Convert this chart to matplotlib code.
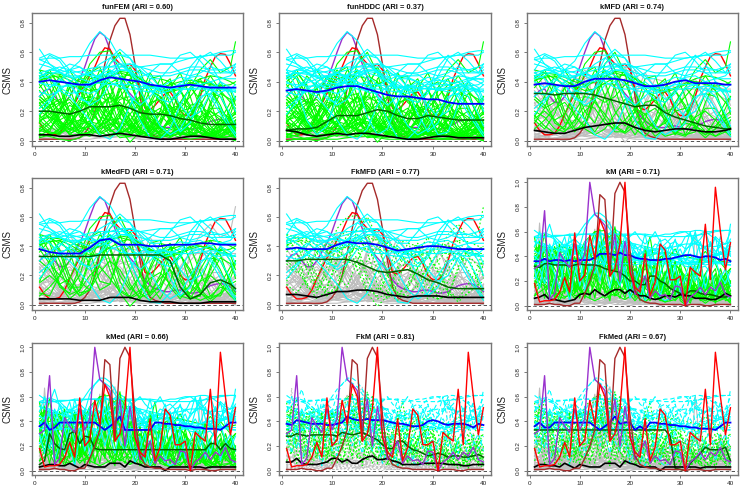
import matplotlib

matplotlib.use("Agg")
import matplotlib.pyplot as plt
import numpy as np

plt.rcParams["font.family"] = ["Liberation Sans", "DejaVu Sans"]

# all curve values are CSMS x 100
days = list(range(1, 41))
knot_days = [1, 3, 5, 7, 9, 11, 13, 15, 17, 19, 21, 23, 25, 27, 29, 31, 33, 35, 37, 39, 40]

purple_smooth = [30, 34, 35, 30, 26, 26, 30, 36, 42, 50, 60, 69, 73.5, 71, 62, 52, 43, 36, 32, 28,
                 22, 17, 13, 11, 10, 9, 9, 10, 10, 9, 8, 8, 9, 11, 13, 14, 14.5, 14, 12, 9]
red_smooth = [12, 7, 4, 4, 5, 10, 18, 25, 32, 38, 44, 50, 58, 63, 62, 56, 52, 50, 52, 48,
              35, 22, 21, 24, 28, 32, 33, 28, 20, 17, 17, 20, 30, 42, 50, 57, 59, 58.5, 52, 44]
brown_smooth = [1, 1, 1, 1, 1, 1, 1, 1, 2, 5, 10, 20, 35, 52, 68, 78, 83, 83, 72, 52,
                30, 12, 5, 3, 2, 1, 1, 1, 1, 1, 1, 1, 1, 1, 1, 1, 1, 1, 1, 1]
purple_raw = [30, 33, 77, 5, 10, 43, 36, 31, 50, 33, 42, 100, 74, 70, 65, 35, 58, 20, 52, 30,
              9, 16, 24, 6, 12, 8, 9, 5, 16, 15, 0, 7, 10, 15, 9, 15, 12, 19, 9, 7]
red_raw = [18, 3, 4, 4, 5, 11, 23, 11, 59, 20, 25, 57, 38, 70, 60, 24, 30, 50, 100, 27,
           15, 11, 42, 8, 19, 50, 45, 21, 21, 24, 0, 31, 27, 24, 66, 21, 96, 60, 29, 51]
brown_raw = [1, 1, 1, 2, 1, 1, 0, 0, 2, 2, 10, 20, 33, 90, 86, 24, 91, 100, 92, 45,
             12, 5, 3, 2, 2, 1, 1, 1, 1, 1, 0, 1, 1, 1, 0, 0, 1, 1, 1, 1]

low_curves = [
    [2, 3, 5, 6, 4, 3, 2, 2, 3, 5, 6, 4, 2, 2, 3, 4, 3, 2, 2, 1, 1],
    [6, 8, 7, 4, 3, 4, 6, 8, 7, 5, 3, 2, 3, 5, 5, 3, 2, 2, 3, 2, 1],
    [9, 7, 4, 2, 3, 6, 9, 8, 5, 3, 2, 4, 6, 7, 5, 3, 2, 3, 4, 3, 2],
    [1, 2, 4, 7, 9, 7, 4, 2, 3, 6, 9, 8, 5, 2, 1, 2, 4, 5, 3, 2, 1],
    [4, 6, 9, 10, 7, 4, 3, 5, 8, 11, 9, 6, 3, 1, 2, 4, 6, 5, 3, 1, 0],
    [3, 1, 1, 3, 5, 8, 10, 8, 5, 3, 2, 3, 5, 6, 4, 2, 1, 3, 5, 6, 5],
    [12, 10, 6, 3, 2, 4, 8, 12, 13, 9, 5, 2, 1, 3, 5, 6, 4, 2, 1, 2, 3],
    [0, 1, 2, 2, 1, 1, 2, 3, 3, 2, 1, 1, 1, 2, 2, 1, 1, 1, 2, 2, 2],
    [7, 5, 5, 8, 11, 13, 11, 7, 4, 3, 4, 7, 9, 8, 5, 3, 3, 5, 7, 8, 7],
    [14, 16, 13, 8, 5, 5, 8, 11, 12, 10, 6, 3, 2, 4, 7, 8, 6, 3, 2, 3, 4],
    [2, 4, 8, 12, 14, 11, 6, 3, 5, 9, 14, 15, 10, 5, 2, 1, 2, 4, 3, 1, 0],
    [5, 3, 1, 0, 2, 6, 10, 14, 15, 11, 6, 3, 2, 5, 9, 11, 8, 4, 2, 3, 5],
]
midlow_curves = [
    [22, 28, 20, 10, 4, 6, 14, 24, 26, 18, 8, 3, 6, 14, 18, 12, 5, 3, 6, 10, 12],
    [12, 6, 4, 12, 22, 28, 22, 12, 6, 8, 16, 22, 18, 10, 4, 6, 14, 20, 16, 8, 5],
    [18, 24, 28, 20, 10, 6, 10, 18, 28, 30, 20, 10, 4, 2, 6, 14, 20, 16, 8, 4, 3],
    [8, 14, 22, 26, 18, 8, 4, 8, 18, 28, 24, 14, 8, 12, 20, 22, 14, 6, 3, 6, 9],
    [28, 20, 10, 5, 8, 18, 30, 32, 22, 10, 4, 6, 14, 20, 14, 6, 2, 3, 10, 16, 18],
    [4, 3, 8, 18, 28, 30, 20, 8, 2, 3, 12, 24, 30, 22, 10, 4, 3, 8, 14, 12, 8],
    [15, 20, 14, 7, 10, 20, 26, 18, 9, 5, 10, 18, 22, 14, 6, 8, 16, 20, 14, 6, 3],
    [25, 30, 26, 14, 5, 3, 9, 20, 30, 26, 14, 5, 3, 8, 16, 20, 16, 8, 4, 9, 14],
    [10, 5, 6, 16, 26, 24, 12, 4, 6, 18, 26, 20, 10, 4, 8, 18, 24, 18, 8, 3, 2],
    [20, 16, 8, 6, 14, 24, 22, 12, 8, 14, 22, 18, 8, 3, 5, 12, 10, 6, 10, 17, 20],
    [6, 12, 20, 14, 6, 10, 22, 30, 24, 12, 5, 8, 18, 24, 16, 6, 3, 6, 12, 10, 7],
    [30, 24, 12, 4, 4, 12, 24, 30, 20, 8, 3, 4, 12, 22, 24, 14, 5, 2, 6, 15, 19],
    [13, 18, 25, 28, 20, 10, 10, 20, 24, 14, 6, 10, 20, 16, 7, 3, 8, 16, 20, 15, 10],
    [3, 8, 16, 24, 20, 10, 5, 10, 20, 24, 16, 6, 6, 16, 26, 22, 10, 3, 2, 6, 10],
    [17, 10, 5, 10, 20, 30, 28, 15, 6, 6, 14, 26, 28, 16, 5, 3, 10, 22, 22, 12, 6],
    [24, 18, 9, 12, 24, 28, 16, 6, 10, 24, 30, 18, 6, 3, 10, 24, 26, 14, 5, 6, 12],
]
mid_curves = [
    [40, 46, 38, 20, 8, 10, 28, 44, 42, 24, 8, 3, 10, 26, 34, 22, 8, 4, 14, 26, 30],
    [12, 22, 40, 48, 36, 14, 6, 16, 38, 48, 34, 12, 3, 8, 24, 36, 28, 10, 3, 8, 14],
    [48, 36, 14, 4, 10, 30, 44, 38, 16, 4, 8, 26, 42, 40, 18, 4, 6, 24, 38, 34, 24],
    [20, 10, 14, 34, 46, 38, 18, 8, 22, 44, 46, 26, 6, 4, 20, 38, 36, 14, 3, 5, 10],
    [36, 44, 30, 12, 12, 32, 48, 40, 20, 10, 20, 34, 30, 12, 4, 14, 34, 44, 34, 14, 4],
    [8, 6, 20, 40, 44, 26, 10, 14, 36, 50, 38, 14, 4, 16, 36, 40, 22, 6, 6, 18, 28],
    [44, 30, 12, 8, 26, 46, 50, 30, 10, 6, 20, 42, 44, 24, 6, 4, 16, 32, 30, 16, 8],
    [30, 40, 46, 30, 12, 8, 24, 46, 58, 44, 18, 4, 6, 22, 40, 38, 18, 4, 4, 16, 22],
    [16, 30, 44, 36, 16, 10, 28, 52, 60, 46, 20, 6, 14, 36, 46, 30, 8, 2, 8, 22, 30],
    [46, 42, 24, 10, 20, 42, 44, 24, 8, -1, 6, 24, 38, 30, 12, 8, 24, 36, 24, 8, 3],
    [34, 24, 10, 14, 36, 46, 28, 8, 16, 42, 48, 28, 8, 3, 14, 34, 42, 26, 8, 6, 14],
    [10, 20, 34, 46, 40, 20, 6, 12, 34, 42, 24, 6, 10, 32, 44, 30, 8, 3, 14, 34, 36],
    [42, 48, 36, 16, 6, 14, 36, 48, 36, 14, 4, 14, 36, 42, 22, 4, 6, 26, 40, 30, 18],
    [26, 14, 6, 16, 38, 48, 40, 18, 4, 10, 30, 46, 36, 12, 3, 12, 32, 38, 20, 5, 2],
    [38, 28, 20, 30, 44, 36, 16, 14, 34, 40, 22, 8, 20, 40, 36, 14, 8, 20, 32, 28, 20],
    [14, 8, 18, 36, 38, 20, 12, 30, 44, 40, 22, 8, 6, 14, 26, 36, 48, 55, 46, 50, 67],
    [30, 24, 14, 18, 34, 52, 60, 61, 48, 30, 14, 8, 12, 26, 34, 24, 10, 4, 8, 14, 16],
]
high_curves = [
    [44, 46, 45, 43, 40, 38, 40, 44, 46, 44, 40, 37, 36, 38, 40, 41, 40, 38, 37, 38, 40],
    [38, 40, 42, 44, 46, 45, 42, 40, 38, 37, 38, 40, 42, 43, 42, 40, 38, 36, 35, 36, 37],
    [48, 46, 42, 38, 36, 37, 40, 44, 47, 46, 42, 38, 35, 34, 36, 39, 42, 44, 43, 40, 38],
    [34, 36, 39, 42, 44, 42, 38, 35, 34, 37, 41, 44, 43, 40, 36, 34, 35, 38, 41, 42, 41],
    [41, 43, 44, 41, 37, 34, 35, 39, 43, 45, 43, 38, 34, 33, 35, 38, 40, 39, 36, 34, 33],
    [36, 34, 33, 36, 42, 46, 44, 38, 33, 32, 36, 42, 46, 45, 40, 35, 33, 35, 40, 44, 46],
    [46, 42, 36, 32, 33, 38, 45, 48, 44, 38, 34, 33, 36, 40, 43, 42, 38, 34, 33, 35, 38],
    [30, 34, 40, 45, 46, 42, 36, 32, 30, 33, 39, 44, 45, 41, 36, 32, 31, 35, 40, 43, 44],
    [43, 48, 47, 40, 34, 32, 35, 42, 48, 47, 40, 34, 32, 34, 39, 43, 44, 40, 35, 33, 34],
    [33, 31, 34, 40, 44, 46, 43, 40, 36, 35, 35, 36, 37, 36, 35, 35, 36, 37, 36, 34, 33],
    [35, 36, 35, 35, 36, 36, 36, 36, 35, 35, 34, 34, 35, 35, 35, 35, 34, 34, 34, 33, 33],
    [39, 38, 37, 37, 38, 39, 39, 38, 38, 38, 37, 36, 36, 36, 35, 35, 35, 35, 35, 35, 35],
    [28, 22, 26, 36, 42, 38, 30, 26, 30, 38, 42, 36, 26, 20, 22, 30, 38, 40, 34, 26, 22],
    [18, 26, 36, 38, 28, 26, 36, 46, 42, 30, 24, 30, 38, 36, 24, 16, 20, 32, 40, 36, 28],
]
top_curves = [
    [44, 46, 46, 48, 54, 66, 74, 68, 56, 46, 40, 36, 34, 36, 38, 38, 38, 40, 42, 42, 42],
    [55, 56, 56, 57, 57, 58, 58, 58, 58, 58, 58, 58, 57, 56, 56, 56, 57, 58, 60, 61, 61],
    [62, 52, 46, 43, 43, 46, 52, 56, 52, 47, 43, 46, 52, 52, 46, 44, 46, 50, 48, 46, 52],
    [56, 59, 56, 48, 42, 40, 44, 52, 58, 56, 48, 42, 42, 50, 58, 60, 54, 46, 42, 44, 48],
    [55, 52, 48, 46, 47, 49, 50, 50, 50, 50, 50, 51, 52, 52, 54, 56, 57, 58, 58, 58, 60],
    [48, 58, 54, 44, 38, 36, 42, 56, 62, 56, 44, 34, 28, 26, 32, 44, 56, 60, 54, 46, 50],
    [42, 44, 48, 52, 50, 44, 40, 44, 50, 52, 50, 44, 36, 28, 34, 50, 58, 52, 40, 30, 20],
    [40, 36, 40, 48, 50, 46, 42, 46, 52, 46, 34, 22, 10, 4, 8, 20, 30, 32, 22, 10, 5],
    [30, 36, 42, 38, 30, 24, 28, 38, 40, 30, 14, 2, 1, 8, 24, 36, 38, 30, 18, 8, 3],
    [22, 28, 34, 30, 22, 14, 4, 1, 8, 24, 36, 40, 34, 18, 6, 12, 28, 36, 30, 18, 10],
    [52, 50, 46, 44, 44, 46, 48, 50, 52, 52, 50, 48, 46, 46, 48, 50, 50, 48, 48, 50, 52],
    [46, 48, 50, 48, 46, 44, 44, 46, 48, 48, 46, 44, 44, 44, 46, 48, 48, 46, 46, 46, 46],
]
smooth_curves = low_curves + midlow_curves + mid_curves + high_curves + top_curves

raw_curves = [
    [1, 67, 10, 4, 2, 3, 1, 2, 3, 5, 2, 4, 8, 3, 2, 6, 3, 1, 2, 4, 1, 2, 3, 1, 2, 1, 3, 2, 1, 2, 1, 1, 2, 3, 2, 1, 2, 3, 2, 1],
    [3, 5, 2, 8, 12, 4, 2, 6, 20, 8, 5, 40, 62, 14, 6, 3, 8, 12, 6, 3, 2, 5, 3, 6, 2, 1, 4, 2, 5, 3, 1, 3, 6, 2, 1, 4, 3, 9, 4, 2],
    [8, 12, 15, 5, 3, 9, 14, 6, 3, 12, 25, 18, 30, 22, 60, 68, 30, 14, 8, 5, 10, 6, 3, 8, 12, 5, 2, 7, 3, 6, 2, 5, 10, 4, 7, 2, 6, 30, 12, 3],
    [20, 14, 4, 9, 16, 6, 22, 18, 8, 4, 12, 28, 35, 16, 22, 40, 20, 45, 30, 12, 6, 14, 20, 7, 3, 16, 8, 4, 10, 5, 2, 8, 4, 12, 6, 3, 9, 5, 18, 8],
    [0, 1, 1, 2, 1, 1, 0, 1, 2, 1, 1, 2, 1, 0, 1, 2, 1, 1, 1, 0, 1, 1, 1, 2, 1, 0, 1, 1, 0, 1, 0, 1, 1, 0, 1, 1, 0, 1, 1, 1],
    [5, 2, 24, 30, 10, 4, 8, 28, 14, 6, 20, 9, 4, 32, 18, 8, 26, 35, 22, 15, 4, 9, 3, 14, 22, 8, 3, 11, 18, 4, 1, 4, 60, 16, 8, 12, 25, 8, 28, 5],
    [12, 28, 7, 3, 5, 18, 6, 3, 10, 22, 6, 15, 38, 52, 28, 12, 5, 24, 40, 8, 16, 22, 10, 4, 6, 12, 20, 6, 2, 9, 5, 12, 3, 5, 14, 20, 4, 10, 3, 6],
    [2, 8, 18, 12, 20, 9, 30, 12, 5, 16, 8, 34, 20, 9, 44, 26, 52, 15, 10, 20, 8, 3, 14, 18, 6, 2, 9, 16, 8, 2, 6, 2, 8, 15, 4, 6, 16, 22, 8, 2],
    [48, 40, 58, 30, 12, 35, 44, 26, 10, 38, 50, 22, 40, 62, 30, 48, 64, 40, 22, 14, 30, 8, 40, 56, 30, 12, 24, 38, 16, 6, 2, 20, 30, 14, 26, 8, 16, 30, 18, 8],
    [30, 52, 34, 14, 38, 50, 18, 44, 28, 12, 30, 46, 26, 10, 34, 52, 36, 16, 40, 24, 10, 28, 48, 20, 6, 34, 44, 22, 8, 30, 12, 4, 26, 38, 12, 24, 30, 10, 18, 16],
    [55, 36, 18, 42, 24, 8, 34, 48, 14, 30, 44, 16, 36, 50, 22, 6, 28, 44, 14, 32, 18, 4, 24, 10, 36, 16, 6, 26, 36, 10, 2, 14, 30, 8, 20, 6, 14, 26, 6, 20],
    [18, 28, 46, 22, 6, 26, 40, 12, 32, 46, 20, 6, 24, 42, 58, 34, 12, 26, 46, 24, 6, 18, 34, 12, 22, 40, 14, 4, 20, 34, 16, 6, 18, 6, 24, 14, 2, 16, 22, 4],
    [40, 22, 6, 24, 48, 30, 10, 36, 18, 6, 26, 48, 60, 30, 10, 30, 50, 16, 6, 22, 36, 14, 4, 18, 30, 8, 22, 40, 18, 6, 10, 32, 10, 20, 6, 16, 26, 8, 14, 10],
    [8, 16, 30, 48, 20, 10, 24, 6, 30, 48, 26, 8, 18, 34, 14, 4, 34, 60, 30, 12, 24, 6, 16, 34, 12, 4, 16, 30, 10, 18, 4, 8, 20, 28, 8, 4, 22, 10, 6, 2],
    [24, 50, 14, 6, 18, 36, 18, 46, 10, 20, 36, 22, 6, 30, 46, 20, 8, 18, 32, 8, 16, 34, 10, 4, 16, 26, 6, 12, 28, 4, 1, 18, 6, 14, 22, 10, 4, 14, 26, 12],
    [34, 14, 26, 38, 12, 4, 14, 28, 40, 16, 6, 20, 30, 12, 24, 38, 18, 6, 20, 40, 12, 6, 22, 36, 8, 14, 28, 6, 14, 24, 8, 2, 14, 4, 12, 26, 8, 20, 4, 6],
    [45, 48, 48, 44, 46, 48, 47, 46, 44, 46, 48, 40, 38, 42, 36, 40, 44, 38, 34, 30, 28, 24, 30, 26, 22, 20, 16, 14, 18, 12, 14, 18, 10, 14, 16, 12, 14, 18, 10, 10],
    [61, 58, 55, 66, 52, 46, 50, 48, 44, 48, 62, 70, 75, 75, 72, 66, 58, 50, 46, 40, 44, 38, 36, 34, 36, 38, 36, 40, 42, 38, 38, 36, 38, 40, 40, 42, 40, 44, 40, 66],
    [56, 55, 56, 56, 57, 57, 57, 58, 58, 58, 58, 58, 58, 58, 58, 58, 58, 58, 57, 57, 58, 58, 57, 56, 56, 57, 58, 58, 59, 60, 60, 60, 61, 61, 60, 60, 61, 61, 61, 61],
    [48, 60, 44, 38, 54, 40, 36, 58, 42, 50, 36, 42, 56, 40, 34, 48, 58, 36, 46, 52, 36, 44, 58, 40, 34, 50, 36, 44, 54, 38, 34, 48, 60, 42, 36, 52, 40, 56, 38, 48],
    [40, 36, 50, 44, 34, 46, 56, 38, 48, 36, 52, 40, 34, 60, 44, 36, 50, 38, 58, 36, 44, 34, 48, 38, 44, 54, 36, 50, 40, 36, 46, 60, 38, 52, 36, 44, 56, 36, 46, 40],
    [36, 44, 34, 50, 40, 36, 44, 34, 50, 44, 36, 48, 38, 52, 36, 48, 40, 34, 44, 36, 50, 40, 36, 46, 36, 42, 48, 34, 40, 46, 36, 42, 34, 40, 48, 36, 42, 50, 36, 44],
    [22, 30, 18, 36, 26, 14, 38, 24, 34, 16, 40, 28, 36, 20, 34, 44, 24, 16, 32, 12, 28, 6, 20, 36, 14, 26, 38, 18, 32, 10, 24, 36, 20, 34, 14, 28, 38, 24, 18, 28],
    [34, 34, 34, 33, 34, 34, 34, 33, 34, 34, 34, 34, 33, 34, 34, 33, 34, 34, 34, 34, 33, 34, 34, 34, 33, 34, 34, 34, 33, 34, 34, 33, 34, 34, 33, 34, 34, 34, 33, 33],
    [44, 42, 46, 48, 46, 44, 48, 46, 50, 46, 44, 50, 48, 46, 50, 54, 50, 46, 50, 52, 46, 48, 46, 44, 50, 48, 46, 48, 44, 50, 46, 48, 52, 46, 48, 50, 44, 48, 46, 54],
    [30, 14, 36, 8, 22, 34, 18, 4, 28, 36, 12, 34, 26, 40, 30, 14, 32, 46, 22, 6, 18, 30, 4, 14, 30, 8, 22, 34, 12, 26, 2, 16, 32, 10, 24, 34, 8, 22, 30, 16],
    [52, 50, 48, 46, 50, 52, 48, 52, 54, 50, 48, 56, 58, 60, 56, 54, 52, 48, 52, 56, 60, 54, 50, 54, 60, 52, 54, 50, 52, 48, 56, 58, 50, 54, 60, 48, 56, 52, 50, 60],
]

panel_names = ["funFEM (ARI = 0.60)", "funHDDC (ARI = 0.37)", "kMFD (ARI = 0.74)",
               "kMedFD (ARI = 0.71)", "FkMFD (ARI = 0.77)", "kM (ARI = 0.71)",
               "kMed (ARI = 0.66)", "FkM (ARI = 0.81)", "FkMed (ARI = 0.67)"]

# cluster of each smooth curve per panel: k gray, n green, c cyan, . not drawn
smooth_labels = [
    "kkkkkkkknnnn" + "nnnnnnnnnnnnnnnn" + "nnn.nnn.nnn.nnnnn" + "n.n.n.c.cc.cnc" + "cccccccccccc",
    "kkkknnnnnnnn" + "nnnnnnnnnnnnnnnn" + "nnc.nnn.nnn.nnnnn" + "c.cc.cc.cc.cnc" + "cccccccccccc",
    "kkkkkkkkkkkk" + "kkknkknkknkkkknk" + "nnk.nkn.nkk.nkknn" + "n.n.n.c.cc.knc" + "cccccccccccc",
    "kkkkkkkkkkkk" + "kkkkkknkkknkkkkk" + "nkn.nnn.nnk.nknkn" + "n.n.n.c.cc.kkc" + "cccccccccccc",
    "kkkkkkkkkkkk" + "kkkkkkkkkkkkkkkk" + "nkn.nkn.nnk.nkknn" + "n.n.n.c.cc.nnc" + "cccccccccccc",
    "kkkkkkkkkkkk" + "kk.nk.n.kn.k.k.n" + "n...n...n...n...n" + ".n.c.c.c.c.c.." + "cc.c.c.c..c.",
    "kkkkkkkkkkkk" + "kk.nk.n.kn.k.k.n" + "n...n...n...n...n" + ".n.c.c.c.c.c.." + "cc.c.c.c..c.",
    "kkkkkkkkkkkk" + "kk.kk.k.kk.k.k.k" + "n...n...n...n...n" + ".n.c.c.c.c.c.." + "cc.c.c.c..c.",
    "kkkkkkkkkkkk" + "kk.kk.k.kk.k.k.k" + "n...n...n...n...n" + ".n.c.c.c.c.c.." + "cc.c.c.c..c.",
]
raw_labels = "kkkkkkkk" + "nnnnnnnnn" + "cccccccccc"

blue_means = [
    [40, 41, 40, 39, 38, 38, 41, 43, 42, 41, 40, 38, 37, 36, 37, 38, 37, 36, 36, 36, 36],
    [34, 35, 34, 33, 34, 36, 37, 37, 35, 33, 31, 30, 30, 29, 28, 28, 26, 25, 25, 25, 25],
    [38, 39, 38, 37, 37, 40, 42, 42, 42, 41, 39, 37, 37, 38, 40, 41, 39, 39, 39, 38, 38],
    [38, 36, 35, 35, 35, 39, 44, 45, 41, 41, 41, 40, 40, 41, 41, 41, 42, 42, 41, 41, 41],
    [38, 39, 38, 38, 38, 41, 43, 42, 42, 41, 39, 37, 38, 39, 40, 40, 39, 38, 38, 38, 38],
    [36, 36, 38, 36, 37, 37, 36, 37, 36, 37, 37, 37, 39, 42, 42, 42, 41, 43, 41, 41, 39, 38, 38, 37, 37, 37, 38, 38, 39, 40, 41, 41, 40, 39, 40, 40, 39, 37, 38, 36],
    [36, 39, 33, 35, 39, 39, 39, 39, 39, 39, 39, 39, 36, 33, 36, 39, 44, 33, 33, 33, 33, 33, 33, 39, 39, 38, 38, 37, 37, 36, 36, 35, 35, 34, 34, 34, 33, 36, 39, 39],
    [38, 37, 41, 40, 39, 38, 38, 38, 37, 37, 38, 39, 44, 42, 41, 41, 42, 41, 41, 41, 40, 39, 38, 38, 37, 36, 36, 37, 40, 41, 40, 38, 37, 38, 38, 38, 37, 35, 38, 37],
    [36, 39, 35, 35, 39, 39, 39, 39, 39, 39, 39, 39, 36, 33, 36, 39, 44, 38, 39, 39, 33, 36, 33, 39, 39, 38, 38, 37, 37, 36, 36, 35, 35, 34, 34, 34, 33, 36, 39, 39],
]
green_means = [
    [20, 20, 19, 18, 20, 23, 23, 23, 24, 22, 19, 18, 18, 17, 15, 14, 12, 11, 11, 11, 11],
    [7, 8, 8, 9, 13, 17, 17, 17, 19, 21, 20, 17, 15, 15, 17, 16, 15, 14, 14, 14, 14],
    [32, 32, 31, 32, 32, 32, 31, 29, 27, 25, 23, 24, 24, 19, 16, 14, 12, 10, 9, 8, 8],
    [33, 33, 33, 33, 33, 33, 34, 34, 34, 34, 34, 34, 34, 30, 12, 4, 7, 15, 17, 14, 11],
    [30, 30, 31, 31, 31, 31, 31, 29, 26, 23, 22, 23, 24, 21, 17, 15, 12, 11, 11, 11, 11],
    [32, 31, 34, 34, 33, 33, 33, 32, 33, 34, 33, 33, 33, 32, 30, 29, 28, 27, 24, 20, 20, 17, 17, 24, 24, 20, 18, 14, 12, 10, 9, 12, 12, 10, 9, 9, 8, 7, 7, 8],
    [5, 8, 30, 22, 18, 17, 30, 32, 22, 28, 27, 18, 17, 17, 17, 17, 17, 17, 17, 17, 17, 17, 17, 17, 17, 17, 17, 17, 17, 17, 17, 17, 17, 17, 22, 22, 17, 22, 18, 17],
    [28, 28, 30, 29, 28, 29, 29, 29, 29, 29, 28, 31, 30, 29, 30, 31, 29, 27, 25, 21, 18, 18, 24, 24, 20, 17, 16, 14, 12, 13, 14, 13, 11, 12, 12, 11, 11, 12, 13, 11],
    [33, 33, 33, 33, 33, 33, 33, 33, 33, 33, 33, 33, 33, 33, 33, 33, 33, 33, 33, 33, 33, 33, 33, 33, 33, 33, 33, 28, 2, 1, 0, 6, 10, 14, 19, 17, 17, 17, 19, 8],
]
black_means = [
    [4, 4, 3, 3, 4, 4, 3, 4, 5, 4, 3, 2, 1, 1, 2, 3, 3, 2, 1, 1, 1],
    [7, 6, 4, 3, 4, 5, 4, 5, 5, 4, 3, 2, 1, 1, 2, 3, 3, 2, 2, 2, 2],
    [7, 6, 5, 5, 7, 9, 10, 11, 12, 12, 9, 7, 6, 7, 8, 8, 7, 6, 6, 7, 8],
    [4, 4, 4, 4, 3, 3, 3, 5, 5, 5, 3, 2, 2, 2, 1, 1, 1, 2, 2, 2, 2],
    [7, 7, 6, 5, 7, 9, 9, 10, 10, 9, 7, 6, 5, 6, 6, 6, 5, 5, 5, 5, 5],
    [6, 7, 9, 5, 5, 4, 3, 4, 5, 9, 10, 9, 13, 10, 8, 11, 13, 13, 10, 13, 10, 8, 8, 6, 5, 6, 8, 8, 7, 9, 8, 8, 6, 6, 6, 5, 5, 7, 10, 8],
    [3, 4, 5, 5, 4, 4, 6, 4, 2, 5, 4, 3, 3, 3, 6, 6, 6, 3, 8, 6, 5, 3, 3, 3, 3, 0, 3, 3, 3, 3, 3, 3, 3, 2, 3, 3, 3, 3, 3, 3],
    [7, 7, 10, 6, 5, 5, 5, 6, 7, 10, 10, 7, 9, 6, 6, 9, 11, 12, 9, 9, 10, 8, 7, 5, 5, 5, 5, 6, 6, 6, 6, 6, 5, 5, 5, 4, 4, 5, 5, 5],
    [3, 5, 5, 4, 4, 3, 6, 4, 2, 5, 4, 3, 3, 3, 6, 6, 6, 3, 8, 6, 5, 3, 3, 3, 3, 0, 3, 3, 3, 3, 3, 3, 3, 2, 3, 3, 3, 3, 3, 3],
]

colors = {"k": "#BEBEBE", "n": "#00FF00", "c": "#00FFFF"}
dotted = (0, (1.5, 2.0))
dashed = (0, (4, 2.5))
# line style of each cluster per panel
styles = [{}, {}, {}, {}, {"n": dotted}, {}, {}, {"n": dotted, "k": dotted, "c": dashed},
          {"n": dotted, "c": dashed}]

W, H = 740, 492
col_px = [(32, 243), (279, 491), (527, 738)]
row_px = [(13, 146), (178, 310), (343, 475)]


def draw_bundle(ax, x, curves, labels, style):
    for code in "knc":
        for curve, label in zip(curves, labels):
            if label == code:
                ax.plot(x, np.array(curve) / 100, color=colors[code], lw=0.8,
                        ls=style.get(code, "-"), zorder=1 if code == "k" else 2)


fig = plt.figure(figsize=(W / 100, H / 100), dpi=100)
for i, name in enumerate(panel_names):
    left, right = col_px[i % 3]
    top, bottom = row_px[i // 3]
    ax = fig.add_axes([left / W, 1 - bottom / H, (right - left) / W, (bottom - top) / H])
    is_raw = i >= 5

    draw_bundle(ax, knot_days, smooth_curves, smooth_labels[i], styles[i])
    if is_raw:
        draw_bundle(ax, days, raw_curves, raw_labels, styles[i])

    purple, red, brown = (purple_raw, red_raw, brown_raw) if is_raw else (purple_smooth, red_smooth, brown_smooth)
    # the raw panels draw these on top, the smooth ones behind the clusters
    hl_z = 6 if is_raw else 1.5
    ax.plot(days, np.array(purple) / 100, color="#9A32CD", lw=1.0, zorder=hl_z)
    ax.plot(days, np.array(brown) / 100, color="#A52A2A", lw=1.0, zorder=hl_z)
    ax.plot(days, np.array(red) / 100, color="#FF0000", lw=1.0, zorder=hl_z)

    mean_x = days if is_raw else knot_days
    ax.plot(mean_x, np.array(green_means[i]) / 100, color="#006400", lw=1.1, zorder=4)
    ax.plot(mean_x, np.array(black_means[i]) / 100, color="black", lw=1.2, zorder=4)
    ax.plot(mean_x, np.array(blue_means[i]) / 100, color="#0000FF", lw=1.3, zorder=4)
    ax.axhline(0, color="#333333", lw=0.6, ls=(0, (4, 3)), zorder=0.5)

    ax.set_xlim(-0.5, 41.5)
    if is_raw:
        ax.set_ylim(-0.035, 1.035)
        ax.set_yticks([0, 0.2, 0.4, 0.6, 0.8, 1.0])
    else:
        ax.set_ylim(-0.036, 0.866)
        ax.set_yticks([0, 0.2, 0.4, 0.6, 0.8])
    ax.set_xticks([0, 10, 20, 30, 40])
    ax.tick_params(labelsize=4.6, length=2.5, width=0.5, color="#444444", labelcolor="#222222", pad=2)
    ax.tick_params(axis="y", labelrotation=90)
    for t in ax.get_yticklabels():
        t.set_va("center")
    for s in ax.spines.values():
        s.set_linewidth(1.0)
        s.set_color("#777777")
    ax.set_title(name, fontsize=5.4, fontweight="bold", pad=3, color="#111111")
    ax.set_ylabel("CSMS", fontsize=7, labelpad=6, color="#222222")

fig.savefig("out.png", dpi=100)
